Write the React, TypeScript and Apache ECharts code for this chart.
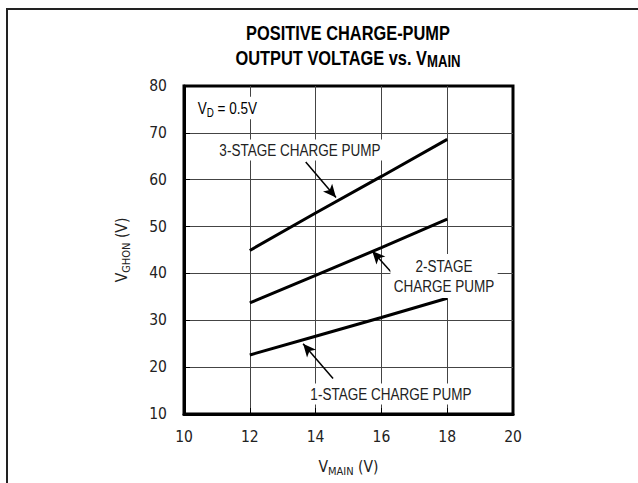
import React, { useEffect, useRef } from "react";
import * as echarts from "echarts";

const vMain = [12, 14, 16, 18];
const stage3 = [44.9, 52.9, 60.7, 68.6];
const stage2 = [33.7, 39.6, 45.5, 51.6];
const stage1 = [22.6, 26.6, 30.6, 34.7];
const xTicks = { min: 10, max: 20, interval: 2 };
const yTicks = { min: 10, max: 80, interval: 10 };
// arrow annotations: [from, to] in data coords
const arrow3 = [[13.7, 63.8], [14.62, 56.2]];
const arrow2 = [[16.35, 39.9], [15.72, 44.8]];
const arrow1 = [[14.53, 17.6], [13.62, 25.0]];

const FONT = "'DejaVu Sans Condensed', 'Liberation Sans', sans-serif";
const GFONT = "'Liberation Sans', Arial, sans-serif";
const NARROW = 0.82;
const TXT = "#222";

export default function App() {
  const ref = useRef<HTMLDivElement>(null);
  useEffect(() => {
    const chart = echarts.init(ref.current!, null, { renderer: "svg" });
    const arrowLine = (a: number[][]) => ({
      silent: true,
      symbol: ["none", "arrow"],
      symbolSize: [9, 13],
      label: { show: false },
      lineStyle: { color: "#000", width: 1.5, type: "solid" },
      data: [[{ coord: a[0] }, { coord: a[1] }]],
    });
    const mk = (vals: number[], arrow: number[][]) => ({
      type: "line",
      data: vMain.map((x, i) => [x, vals[i]]),
      showSymbol: false,
      lineStyle: { color: "#000", width: 3 },
      markLine: arrowLine(arrow),
      z: 3,
    });
    const sub = (fs: number, weight: string, fam: string) => ({
      fontSize: fs, fontFamily: fam, fontWeight: weight, color: TXT,
      verticalAlign: "bottom", lineHeight: fs + 1,
    });
    const main = (fs: number, weight: string, fam: string) => ({
      fontSize: fs, fontFamily: fam, fontWeight: weight, color: TXT,
      verticalAlign: "middle", lineHeight: fs + 4,
    });
    const label = (text: string, x: number, y: number, extra: any = {}) => ({
      type: "text", x, y, z: 10, scaleX: NARROW,
      style: {
        text, align: "center", verticalAlign: "middle",
        font: `16.5px ${GFONT}`, fill: TXT, backgroundColor: "#fff", padding: [2, 4, 2, 4],
        ...extra,
      },
    });
    chart.setOption({
      animation: false,
      backgroundColor: "#fff",
      grid: {
        left: 184, right: 125, top: 86, bottom: 69,
        show: true, borderColor: "#000", borderWidth: 3, backgroundColor: "transparent",
      },
      xAxis: {
        type: "value", ...xTicks,
        name: "{m|V}{s|MAIN}{m| (V)}",
        nameLocation: "middle", nameGap: 43,
        nameTextStyle: { rich: { m: main(15.5, "normal", FONT), s: sub(11, "normal", FONT) } },
        axisLine: { show: true, lineStyle: { color: "#000", width: 3 } },
        axisTick: { show: true, inside: true, length: 6, lineStyle: { color: "#000", width: 1 } },
        axisLabel: { fontFamily: FONT, fontSize: 15.5, color: TXT, margin: 15 },
        splitLine: { show: true, showMinLine: false, showMaxLine: false, lineStyle: { color: "#444", width: 1 } },
      },
      yAxis: {
        type: "value", ...yTicks,
        name: "{m|V}{s|GHON}{m| (V)}",
        nameLocation: "middle", nameGap: 52, nameRotate: 90,
        nameTextStyle: { rich: { m: main(15.5, "normal", FONT), s: sub(11, "normal", FONT) } },
        axisLine: { show: true, lineStyle: { color: "#000", width: 3 } },
        axisTick: { show: true, inside: true, length: 6, lineStyle: { color: "#000", width: 1 } },
        axisLabel: { fontFamily: FONT, fontSize: 15.5, color: TXT, margin: 17 },
        splitLine: { show: true, showMinLine: false, showMaxLine: false, lineStyle: { color: "#444", width: 1 } },
      },
      series: [mk(stage3, arrow3), mk(stage2, arrow2), mk(stage1, arrow1)],
      graphic: [
        {
          type: "polyline", silent: true,
          shape: { points: [[7, 490], [7, 9], [645, 9]] },
          style: { stroke: "#222", lineWidth: 2, fill: "none" },
        },
        {
          type: "text", x: 348, y: 33, scaleX: NARROW,
          style: {
            text: "POSITIVE CHARGE-PUMP", align: "center", verticalAlign: "middle",
            font: `bold 20px ${GFONT}`, fill: "#000",
          },
        },
        {
          type: "text", x: 348, y: 58, scaleX: NARROW,
          style: {
            text: "{m|OUTPUT VOLTAGE vs. V}{s|MAIN}", align: "center", verticalAlign: "middle",
            rich: {
              m: { ...main(20, "bold", GFONT), color: "#000" },
              s: { ...sub(16, "bold", GFONT), color: "#000" },
            },
          },
        },
        {
          type: "text", x: 196, y: 108, z: 10, scaleX: NARROW,
          style: {
            text: "{m|V}{s|D}{m| = 0.5V}", align: "left", verticalAlign: "middle",
            backgroundColor: "#fff", padding: [1, 2, 1, 2],
            rich: { m: main(16.5, "normal", GFONT), s: sub(12, "normal", GFONT) },
          },
        },
        label("3-STAGE CHARGE PUMP", 300, 150),
        label("2-STAGE\nCHARGE PUMP", 444, 276, { lineHeight: 20 }),
        label("1-STAGE CHARGE PUMP", 391, 394),
      ],
    });
    return () => chart.dispose();
  }, []);
  return (
    <div
      ref={ref}
      style={{ position: "fixed", left: 0, top: 0, width: 638, height: 483 }}
    />
  );
}
